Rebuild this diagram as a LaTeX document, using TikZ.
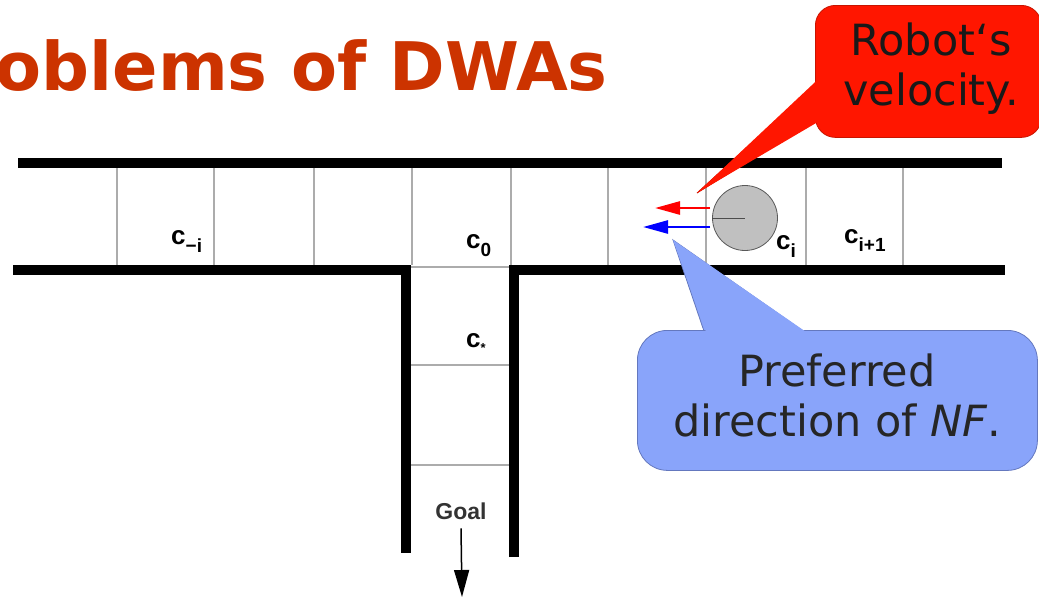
\documentclass[tikz,border=0pt]{standalone}
\usepackage{fontspec}
\setmainfont{DejaVu Sans}
\newfontfamily\labfont{Liberation Sans}
\usetikzlibrary{arrows.meta}
\definecolor{titlered}{RGB}{204,51,0}
\definecolor{callred}{RGB}{255,22,0}
\definecolor{callredline}{RGB}{200,20,0}
\definecolor{callblue}{RGB}{137,164,250}
\definecolor{callblueline}{RGB}{100,120,190}
\definecolor{robotgray}{RGB}{192,192,192}
\newcommand\clab[2]{{\labfont\bfseries c\raisebox{-8pt}{\fontsize{19}{19}\selectfont #2}}}
\tikzset{
  wall/.style={line width=10pt, line cap=butt, line join=miter, black},
  cell/.style={draw=gray!65, line width=1.3pt},
  cellname/.style={anchor=base west, inner sep=0pt, font=\fontsize{26}{26}\selectfont},
  calltext/.style={text=black!85, font=\fontsize{43}{50}\selectfont, align=center, inner sep=0pt},
  vel/.style={line width=2.6pt, -{Triangle[length=25pt,width=13pt]}},
}
\begin{document}
\begin{tikzpicture}[x=1pt,y=-1pt]
\useasboundingbox (0,0) rectangle (1039,598);
\begin{scope}
\clip (0,0) rectangle (1039,598);
% title
\node[anchor=base east, inner sep=0pt, text=titlered, font=\fontsize{67}{67}\selectfont\bfseries] (title) at (608,90) {Problems of DWAs};

% cell lines
\foreach \x in {117,214,314,412,511,608,706,806,903}
  \draw[cell] (\x,168) -- (\x,265);
\foreach \y in {267,365,465}
  \draw[cell] (411,\y) -- (509,\y);

% walls
\draw[wall] (18,163) -- (1002,163);
\draw[wall] (13,270) -- (406,270) -- (406,553);
\draw[wall] (514,557) -- (514,270) -- (1005,270);

% cell labels
\node[cellname] (cmi) at (171,244) {\clab{c}{−i}};
\node[cellname] (c0) at (466,248) {\clab{c}{0}};
\node[cellname] (ci) at (776,249) {\clab{c}{i}};
\node[cellname] (cip) at (844,243) {\clab{c}{i+1}};
\node[cellname] (cstar) at (466,347) {{\labfont\bfseries c\raisebox{-5pt}{\fontsize{13}{13}\selectfont *}}};

% goal
\node[anchor=base, inner sep=0pt, font=\labfont\bfseries\fontsize{23}{23}\selectfont, text=black!80] (goal) at (461,519) {Goal};
\coordinate (goalend) at (462,597);
\draw[line width=1.5pt, -{Triangle[length=27pt,width=15pt]}] (goal.south) ++(0,9) -- (goalend);

% robot
\node[circle, draw=gray!70!black, fill=robotgray, line width=0.8pt, minimum size=65pt, inner sep=0pt] (robot) at (745,218) {};
\draw[gray!60!black, line width=1pt] (robot.west) -- (robot.center);
\coordinate (velstart) at (710,208);
\coordinate (velend) at (655,208);
\coordinate (nfstart) at (710,227);
\coordinate (nfend) at (643,227);
\draw[vel, red] (velstart) -- (velend);
\draw[vel, blue] (nfstart) -- (nfend);

% red callout
\coordinate (rtip) at (697,193);
\fill[callred] (rtip) -- (825,76) -- (825,114) -- cycle;
\draw[callredline, line width=0.8pt] (825,76) -- (rtip) -- (825,114);
\node[draw=callredline, fill=callred, line width=0.8pt, rounded corners=20pt, minimum width=226pt, minimum height=132pt, anchor=north west] (robbox) at (815,5) {};
\fill[callred] (rtip) -- (828,70) -- (828,116) -- cycle;
\node[calltext, text=black!90] (robtext) at (931,69) {Robot‘s\\velocity.};

% blue callout
\coordinate (btip) at (673,240);
\fill[callblue] (btip) -- (707,340) -- (816,340) -- cycle;
\draw[callblueline, line width=0.8pt] (707,340) -- (btip) -- (816,340);
\node[draw=callblueline, fill=callblue, line width=0.8pt, rounded corners=30pt, minimum width=400pt, minimum height=140pt, anchor=north west] (nfbox) at (637,330) {};
\fill[callblue] (btip) -- (710,343) -- (822,343) -- cycle;
\node[calltext] (nftext) at (837,395) {Preferred\\direction of \textit{NF}.};
\end{scope}
\end{tikzpicture}
\end{document}
